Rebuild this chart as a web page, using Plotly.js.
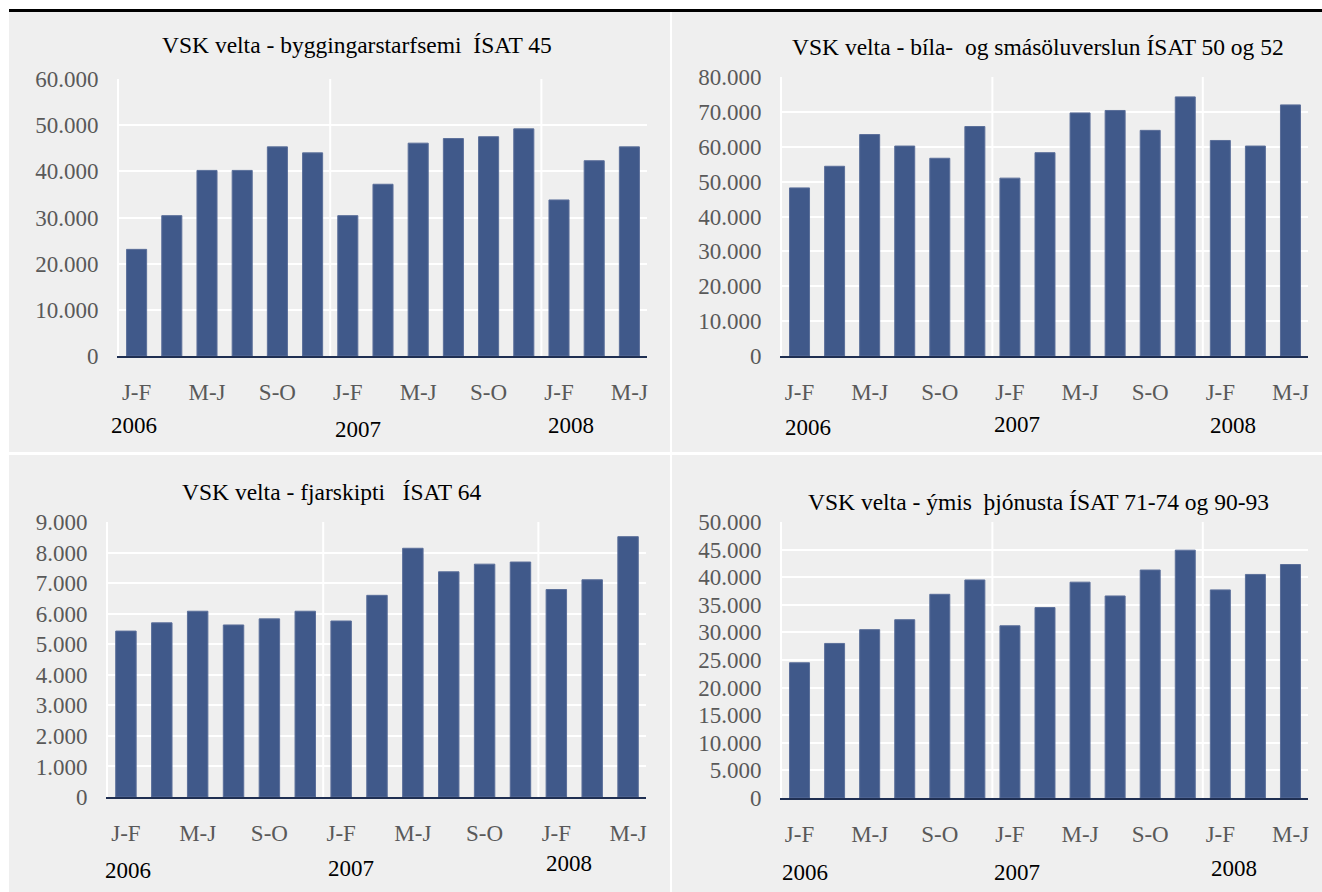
<!DOCTYPE html>
<html>
<head>
<meta charset="utf-8">
<script src="https://cdn.plot.ly/plotly-3.0.1.min.js"></script>
<style>
  html, body { margin: 0; padding: 0; background: #ffffff; }
  #chart { width: 1322px; height: 892px; }
</style>
</head>
<body>
<div id="chart"></div>
<script>
// ---------- DATA ----------
const categories = [
  "2006 J-F", "2006 M-A", "2006 M-J", "2006 J-Á", "2006 S-O", "2006 N-D",
  "2007 J-F", "2007 M-A", "2007 M-J", "2007 J-Á", "2007 S-O", "2007 N-D",
  "2008 J-F", "2008 M-A", "2008 M-J"
];
const tickCategories = ["2006 J-F", "2006 M-J", "2006 S-O", "2007 J-F", "2007 M-J", "2007 S-O", "2008 J-F", "2008 M-J"];
const tickLabels = ["J-F", "M-J", "S-O", "J-F", "M-J", "S-O", "J-F", "M-J"];
const years = ["2006", "2007", "2008"];
const yearFirstCategory = ["2006 J-F", "2007 J-F", "2008 J-F"];

const titles = [
  "VSK velta - byggingarstarfsemi\u00a0\u00a0ÍSAT 45",
  "VSK velta - bíla-\u00a0 og smásöluverslun ÍSAT 50 og 52",
  "VSK velta - fjarskipti\u00a0\u00a0\u00a0ÍSAT 64",
  "VSK velta - ýmis\u00a0 þjónusta ÍSAT 71-74 og 90-93"
];

const byggingarstarfsemi = [23100, 30400, 40200, 40200, 45300, 44000, 30400, 37200, 46100, 47100, 47500, 49200, 33800, 42300, 45300];
const smasoluverslun     = [48200, 54400, 63500, 60200, 56700, 65800, 51000, 58300, 69700, 70400, 64700, 74300, 61800, 60200, 72000];
const fjarskipti         = [5430, 5700, 6080, 5630, 5830, 6080, 5760, 6600, 8140, 7370, 7620, 7690, 6790, 7110, 8520];
const ymisThjonusta      = [24500, 28000, 30500, 32300, 36900, 39500, 31200, 34500, 39100, 36600, 41300, 44900, 37700, 40500, 42300];

const seriesList = [byggingarstarfsemi, smasoluverslun, fjarskipti, ymisThjonusta];
const yMax = [60000, 80000, 9000, 50000];
const yStep = [10000, 10000, 1000, 5000];

// ---------- LAYOUT / STYLE ----------
const W = 1322, H = 892;
const px = v => v / W;
const py = v => 1 - v / H;

// plot areas in pixels: [left, right, top, bottom]
const areas = [
  [119, 647, 79, 356],
  [782, 1308, 77, 356],
  [108, 646, 522, 797],
  [782, 1308, 522, 798]
];
// title centres in pixels
const titlePos = [[357, 45], [1038, 47], [331, 492], [1038, 502]];
// year label offsets and vertical positions
const yearShift = [[-3, 10, 12], [8, 7, 13], [2, 10, 13], [5, 7, 14]];
const yearY = [[426, 430, 426], [427, 424, 426], [870, 868, 863], [872, 872, 868]];

const fontFam = "Liberation Serif, Times New Roman, Times, DejaVu Serif, serif";
const barColor = "#40598a";
const tickColor = "#595959";

const data = [];
const layout = {
  width: W, height: H,
  margin: {l: 0, r: 0, t: 0, b: 0, pad: 0, autoexpand: false},
  paper_bgcolor: "#ffffff",
  plot_bgcolor: "#dcdcdc",
  showlegend: false,
  separators: ",.",
  bargap: 0.43,
  font: {family: fontFam, size: 23, color: tickColor},
  shapes: [],
  annotations: []
};

// panel backgrounds
const panels = [[9, 670, 12, 452], [672, 1322, 12, 452], [9, 670, 455, 892], [672, 1322, 455, 892]];
panels.forEach(p => {
  layout.shapes.push({type: "rect", xref: "paper", yref: "paper", layer: "below",
    x0: px(p[0]), x1: px(p[1]), y0: py(p[3]), y1: py(p[2]),
    fillcolor: "#efefef", line: {width: 0}});
});
// top black rule
layout.shapes.push({type: "rect", xref: "paper", yref: "paper", layer: "above",
  x0: px(9), x1: px(1322), y0: py(12), y1: py(9), fillcolor: "#000000", line: {width: 0}});

seriesList.forEach((vals, i) => {
  const n = i + 1;
  const xa = "x" + (n === 1 ? "" : n);
  const ya = "y" + (n === 1 ? "" : n);
  const xkey = "xaxis" + (n === 1 ? "" : n);
  const ykey = "yaxis" + (n === 1 ? "" : n);
  const a = areas[i];

  data.push({
    type: "bar", x: categories, y: vals, xaxis: xa, yaxis: ya,
    marker: {color: barColor, line: {color: "#5b6f9a", width: 1}},
    hoverinfo: "x+y"
  });

  layout[xkey] = {
    domain: [px(a[0]), px(a[1])],
    anchor: ya,
    type: "category",
    categoryorder: "array", categoryarray: categories,
    range: [-0.5, categories.length - 0.5],
    autorange: false,
    automargin: false,
    tickmode: "array", tickvals: tickCategories, ticktext: tickLabels,
    ticks: "", ticklabelstandoff: 14,
    tickfont: {family: fontFam, size: 23, color: tickColor},
    showgrid: false, zeroline: false,
    showline: true, linecolor: "#1f2f52", linewidth: 2,
    fixedrange: true
  };
  layout[ykey] = {
    domain: [py(a[3]), py(a[2])],
    anchor: xa,
    range: [0, yMax[i]],
    autorange: false,
    automargin: false,
    dtick: yStep[i], tick0: 0,
    tickformat: ",.0f",
    ticks: "", ticklabelstandoff: 14,
    tickfont: {family: fontFam, size: 23, color: tickColor},
    showgrid: true, gridcolor: "#ffffff", gridwidth: 2,
    zeroline: false,
    showline: true, linecolor: "#ffffff", linewidth: 2,
    fixedrange: true
  };

  // year separators (white vertical lines)
  [5.5, 11.5].forEach(xv => {
    layout.shapes.push({type: "line", xref: xa, yref: ya + " domain",
      x0: xv, x1: xv, y0: 0, y1: 1, line: {color: "#ffffff", width: 2}, layer: "below"});
  });

  // title
  layout.annotations.push({
    xref: "paper", yref: "paper", x: px(titlePos[i][0]), y: py(titlePos[i][1]),
    xanchor: "center", yanchor: "middle", showarrow: false,
    text: titles[i], font: {family: fontFam, size: 23.5, color: "#000000"}
  });

  // year labels
  years.forEach((yr, k) => {
    layout.annotations.push({
      xref: xa, yref: "paper", x: yearFirstCategory[k], y: py(yearY[i][k]),
      xshift: yearShift[i][k],
      xanchor: "center", yanchor: "middle", showarrow: false,
      text: yr, font: {family: fontFam, size: 23, color: "#000000"}
    });
  });
});

Plotly.newPlot("chart", data, layout, {displayModeBar: false, staticPlot: true});
</script>
</body>
</html>
